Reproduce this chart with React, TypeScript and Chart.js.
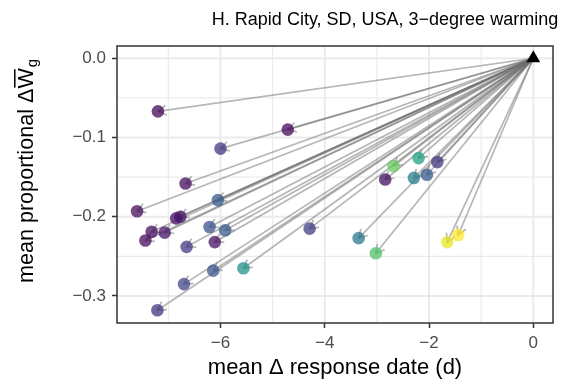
import React, { useEffect, useRef } from 'react';
import { Chart, registerables } from 'chart.js';

Chart.register(...registerables);

// ---- data ----
const responseShift = [
  -7.20, -4.71, -6.00, -6.67, -6.05, -7.60, -6.85, -6.77, -7.32, -7.07,
  -7.44, -6.21, -5.91, -6.65, -6.11, -4.29, -6.14, -5.56, -6.70, -7.21,
  -2.68, -2.20, -1.84, -2.84, -2.29, -2.04, -3.35, -3.02, -1.65, -1.44,
];
const proportionalChange = [
  -0.067, -0.090, -0.114, -0.158, -0.179, -0.193, -0.202, -0.200, -0.219, -0.220,
  -0.230, -0.213, -0.217, -0.238, -0.232, -0.215, -0.268, -0.265, -0.285, -0.318,
  -0.136, -0.126, -0.131, -0.153, -0.151, -0.147, -0.227, -0.246, -0.232, -0.223,
];
const colourValue = [
  0.02, 0.02, 0.16, 0.03, 0.28, 0.03, 0.04, 0.05, 0.04, 0.05,
  0.03, 0.25, 0.28, 0.17, 0.05, 0.18, 0.27, 0.50, 0.21, 0.16,
  0.76, 0.58, 0.16, 0.04, 0.42, 0.28, 0.40, 0.72, 0.97, 1.00,
];
const originX = [0];
const originY = [0];
const xTicks = [-6, -4, -2, 0];
const yTicks = [-0.3, -0.2, -0.1, 0.0];
const xMinor = [-7, -5, -3, -1];
const yMinor = [-0.25, -0.15, -0.05];
const titleText = 'H. Rapid City, SD, USA, 3\u2212degree warming';
const xLabel = 'mean \u0394 response date (d)';
const yLabelMain = 'mean proportional \u0394';
const yLabelVar = 'W';
const yLabelSub = 'g';

const FONT = '"Liberation Sans", Arial, Helvetica, sans-serif';

const VIRIDIS = [
  [68, 1, 84], [72, 36, 117], [65, 68, 135], [53, 95, 141], [42, 120, 142],
  [33, 145, 140], [34, 168, 132], [68, 191, 112], [122, 209, 81], [189, 223, 38], [253, 231, 37],
];
function viridis(t: number, a: number) {
  const s = Math.max(0, Math.min(1, t)) * (VIRIDIS.length - 1);
  const i = Math.min(VIRIDIS.length - 2, Math.floor(s));
  const f = s - i;
  const c = VIRIDIS[i].map((v, k) => Math.round(v + (VIRIDIS[i + 1][k] - v) * f));
  return `rgba(${c[0]},${c[1]},${c[2]},${a})`;
}

const minusFmt = (v: number, digits: number) =>
  (v < 0 ? '\u2212' : '') + Math.abs(v).toFixed(digits);

const ARROW_COLOR = 'rgba(110,110,110,0.5)';

const panelPlugin = {
  id: 'panelPlugin',
  beforeDatasetsDraw(chart: any) {
    const { ctx, chartArea: a, scales } = chart;
    const xs = scales.x, ys = scales.y;
    ctx.save();
    ctx.beginPath();
    ctx.rect(a.left, a.top, a.right - a.left, a.bottom - a.top);
    ctx.clip();
    ctx.strokeStyle = '#ebebeb';
    ctx.lineWidth = 1.2;
    for (const v of xMinor) {
      const p = xs.getPixelForValue(v);
      ctx.beginPath(); ctx.moveTo(p, a.top); ctx.lineTo(p, a.bottom); ctx.stroke();
    }
    for (const v of yMinor) {
      const p = ys.getPixelForValue(v);
      ctx.beginPath(); ctx.moveTo(a.left, p); ctx.lineTo(a.right, p); ctx.stroke();
    }
    ctx.lineWidth = 2;
    for (const v of xTicks) {
      const p = xs.getPixelForValue(v);
      ctx.beginPath(); ctx.moveTo(p, a.top); ctx.lineTo(p, a.bottom); ctx.stroke();
    }
    for (const v of yTicks) {
      const p = ys.getPixelForValue(v);
      ctx.beginPath(); ctx.moveTo(a.left, p); ctx.lineTo(a.right, p); ctx.stroke();
    }
    // arrow heads
    ctx.strokeStyle = ARROW_COLOR;
    ctx.lineWidth = 1.7;
    const ox = xs.getPixelForValue(originX[0]);
    const oy = ys.getPixelForValue(originY[0]);
    const L = 9.5, th = Math.PI / 6;
    responseShift.forEach((xv, i) => {
      const px = xs.getPixelForValue(xv);
      const py = ys.getPixelForValue(proportionalChange[i]);
      const ang = Math.atan2(py - oy, px - ox);
      ctx.beginPath();
      ctx.moveTo(px - L * Math.cos(ang - th), py - L * Math.sin(ang - th));
      ctx.lineTo(px, py);
      ctx.lineTo(px - L * Math.cos(ang + th), py - L * Math.sin(ang + th));
      ctx.stroke();
    });
    ctx.restore();
  },
  afterDraw(chart: any) {
    const { ctx, chartArea: a } = chart;
    ctx.save();
    // panel border
    ctx.strokeStyle = '#333333';
    ctx.lineWidth = 1.5;
    ctx.strokeRect(a.left, a.top, a.right - a.left, a.bottom - a.top);
    // title
    ctx.fillStyle = '#000000';
    ctx.font = `18px ${FONT}`;
    ctx.textAlign = 'center';
    ctx.textBaseline = 'alphabetic';
    ctx.fillText(titleText, 385, 25);
    // x label
    ctx.font = `22px ${FONT}`;
    ctx.fillText(xLabel, (a.left + a.right) / 2, 374);
    // y label
    ctx.translate(33, 171);
    ctx.rotate(-Math.PI / 2);
    ctx.textAlign = 'left';
    const mainSize = 21.6;
    ctx.font = `${mainSize}px ${FONT}`;
    const w1 = ctx.measureText(yLabelMain).width;
    const wW = ctx.measureText(yLabelVar).width;
    ctx.font = `15px ${FONT}`;
    const wg = ctx.measureText(yLabelSub).width;
    const total = w1 + wW + wg + 1;
    let x = -total / 2;
    ctx.font = `${mainSize}px ${FONT}`;
    ctx.fillText(yLabelMain, x, 0);
    x += w1;
    ctx.fillText(yLabelVar, x, 0);
    ctx.fillRect(x + 1, -mainSize * 0.716 - 3.5, wW - 2, 1.5);
    x += wW + 1;
    ctx.font = `15px ${FONT}`;
    ctx.fillText(yLabelSub, x, 4);
    ctx.restore();
  },
};

export default function App() {
  const ref = useRef<HTMLCanvasElement | null>(null);
  useEffect(() => {
    if (!ref.current) return;
    const arrowSets = responseShift.map((xv, i) => ({
      type: 'scatter' as const,
      data: [
        { x: originX[0], y: originY[0] },
        { x: xv, y: proportionalChange[i] },
      ],
      showLine: true,
      borderColor: ARROW_COLOR,
      borderWidth: 1.7,
      pointRadius: 0,
      pointHoverRadius: 0,
      order: 3,
    }));
    const chart = new Chart(ref.current, {
      type: 'scatter',
      data: {
        datasets: [
          {
            data: originX.map((v, i) => ({ x: v, y: originY[i] })),
            pointStyle: 'triangle',
            pointRadius: 8,
            backgroundColor: '#000000',
            borderColor: '#000000',
            borderWidth: 0,
            order: 0,
          } as any,
          {
            data: responseShift.map((v, i) => ({ x: v, y: proportionalChange[i] })),
            pointRadius: 6.3,
            backgroundColor: colourValue.map((c) => viridis(c, 0.75)),
            borderWidth: 0,
            order: 1,
          } as any,
          ...arrowSets,
        ],
      },
      options: {
        responsive: false,
        maintainAspectRatio: false,
        animation: false,
        devicePixelRatio: 1,
        layout: { padding: { left: 0, right: 11, top: 46, bottom: 0 } },
        plugins: { legend: { display: false }, tooltip: { enabled: false }, title: { display: false } },
        scales: {
          x: {
            type: 'linear',
            min: -7.985,
            max: 0.378,
            afterBuildTicks: (s: any) => { s.ticks = xTicks.map((v) => ({ value: v })); },
            afterFit: (s: any) => { s.height = 59; },
            border: { display: false },
            grid: { display: true, drawOnChartArea: false, drawTicks: true, tickLength: 5, tickColor: '#333333', tickWidth: 1.5 },
            ticks: {
              color: '#4d4d4d',
              font: { family: FONT, size: 17 },
              padding: 5,
              maxRotation: 0,
              autoSkip: false,
              callback: (v: any) => minusFmt(Number(v), 0),
            },
          },
          y: {
            type: 'linear',
            min: -0.3341,
            max: 0.0155,
            afterBuildTicks: (s: any) => { s.ticks = yTicks.map((v) => ({ value: v })); },
            afterFit: (s: any) => { s.width = 117; },
            border: { display: false },
            grid: { display: true, drawOnChartArea: false, drawTicks: true, tickLength: 5, tickColor: '#333333', tickWidth: 1.5 },
            ticks: {
              color: '#4d4d4d',
              font: { family: FONT, size: 17 },
              padding: 6,
              autoSkip: false,
              callback: (v: any) => minusFmt(Number(v), 1),
            },
          },
        },
      } as any,
      plugins: [panelPlugin],
    });
    return () => chart.destroy();
  }, []);
  return (
    <div style={{ position: 'absolute', left: 0, top: 0, width: 564, height: 382, background: '#ffffff' }}>
      <canvas ref={ref} width={564} height={382} style={{ width: 564, height: 382 }} />
    </div>
  );
}
